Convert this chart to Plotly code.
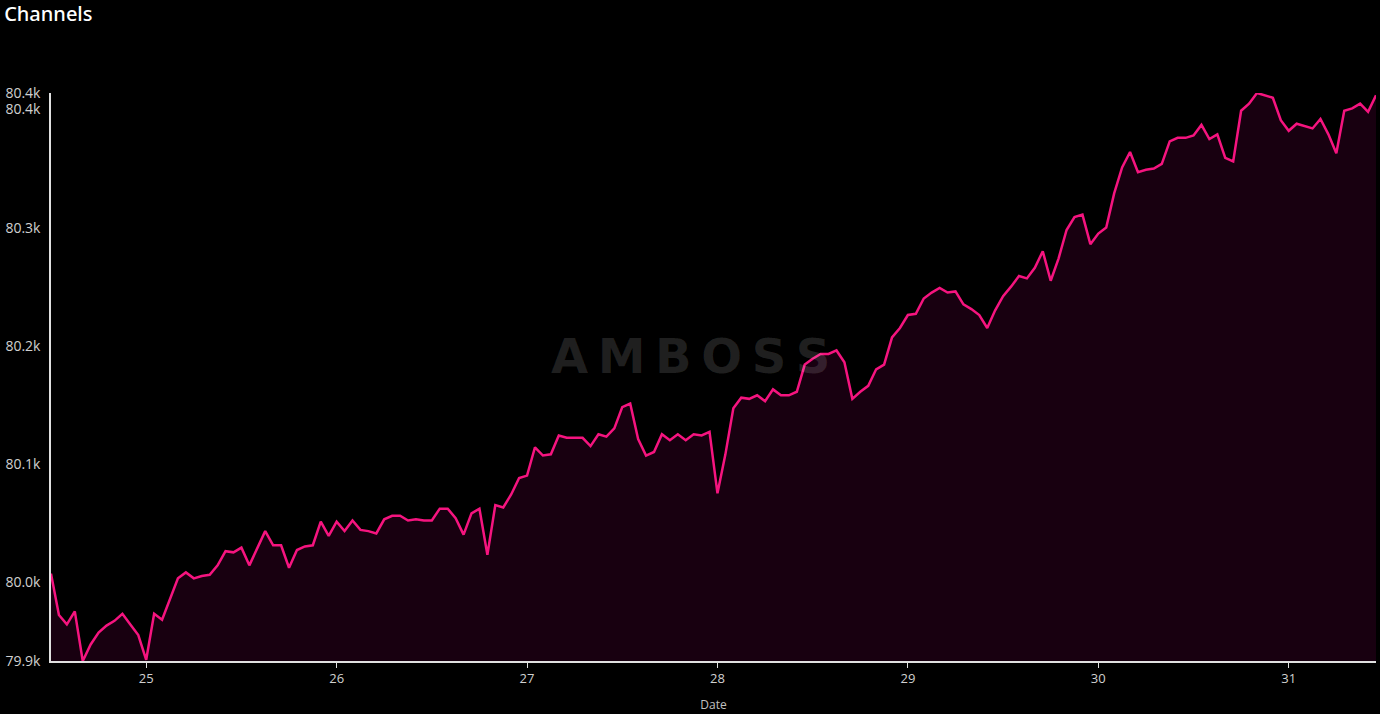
import pandas as pd
import plotly.graph_objects as go

# hourly channel counts, from 24th 12:00 to 31st 11:00
start_time = "2024-01-24 12:00"
channels = [
    80007, 79972, 79964, 79975, 79933, 79947, 79957, 79963, 79967, 79973,
    79964, 79955, 79934, 79973, 79968, 79985, 80003, 80008, 80003, 80005,
    80006, 80014, 80026, 80025, 80029, 80014, 80029, 80043, 80031, 80031,
    80012, 80027, 80030, 80031, 80051, 80039, 80051, 80043, 80052, 80044,
    80043, 80041, 80053, 80056, 80056, 80052, 80053, 80052, 80052, 80062,
    80062, 80054, 80040, 80058, 80062, 80023, 80065, 80063, 80074, 80088,
    80090, 80114, 80107, 80108, 80124, 80122, 80122, 80122, 80115, 80125,
    80123, 80130, 80148, 80151, 80121, 80107, 80110, 80125, 80120, 80125,
    80120, 80125, 80124, 80127, 80075, 80108, 80147, 80156, 80155, 80158,
    80153, 80163, 80158, 80158, 80161, 80184, 80189, 80193, 80193, 80196,
    80186, 80155, 80161, 80166, 80180, 80184, 80207, 80215, 80226, 80227,
    80240, 80245, 80249, 80245, 80246, 80235, 80231, 80226, 80215, 80230,
    80242, 80250, 80259, 80257, 80266, 80280, 80255, 80274, 80298, 80309,
    80311, 80286, 80295, 80300, 80329, 80351, 80364, 80347, 80349, 80350,
    80354, 80373, 80376, 80376, 80378, 80387, 80375, 80379, 80359, 80356,
    80399, 80405, 80414, 80412, 80410, 80391, 80382, 80388, 80386, 80384,
    80392, 80379, 80363, 80399, 80401, 80405, 80398, 80412,
]
dates = pd.date_range(start_time, periods=len(channels), freq="h")
round_ticks = [80000, 80100, 80200, 80300, 80400]

ymin, ymax = min(channels), max(channels)
tickvals = [ymin] + round_ticks + [ymax]
ticktext = [f"{v/1000:.1f}k" for v in tickvals]

fig = go.Figure()
fig.add_trace(go.Scatter(
    x=dates, y=channels, mode="lines",
    line=dict(color="#f5147f", width=2.5),
    fill="tozeroy", fillcolor="#180010",
    hoverinfo="skip",
))

fig.update_layout(
    width=1380, height=714,
    paper_bgcolor="#000000", plot_bgcolor="#000000",
    margin=dict(l=51, r=4, t=93, b=48),
    showlegend=False,
    font=dict(family="Open Sans, Noto Sans, sans-serif", color="#d0d0d0", size=14),
    title=dict(text="Channels", x=0.003, xanchor="left", xref="container",
               y=0.981, yanchor="middle", yref="container",
               font=dict(size=20, color="#ffffff", family="Noto Sans, Open Sans, sans-serif",
                         weight=500)),
    xaxis=dict(
        range=[dates[0], dates[-1]],
        tickformat="%-d", dtick=86400000, tick0="2024-01-25",
        showgrid=False, zeroline=False,
        showline=True, linecolor="#e0e0e0", linewidth=1.5,
        ticks="outside", ticklen=5, tickcolor="#e0e0e0",
        tickfont=dict(size=13, color="#d0d0d0"),
        title=dict(text="Date", font=dict(size=12, color="#c0c0c0"), standoff=14),
    ),
    yaxis=dict(
        range=[ymin, ymax],
        tickmode="array", tickvals=tickvals, ticktext=ticktext,
        showgrid=False, zeroline=False,
        showline=True, linecolor="#e0e0e0", linewidth=1.5,
        ticks="", ticklabelstandoff=6,
        tickfont=dict(size=14, color="#d0d0d0"),
    ),
    annotations=[dict(
        text="<b>A\u2009M\u2009B\u2009O\u2009S\u2009S</b>", xref="paper", yref="paper",
        x=0.4827, y=0.537, xanchor="center", yanchor="middle",
        showarrow=False,
        font=dict(size=48, color="rgba(255,255,255,0.13)", family="DejaVu Sans, sans-serif"),
    )],
)

fig.write_html(
    "out.html",
    config={"displayModeBar": False},
    post_script="document.body.style.margin='0';document.body.style.background='#000';",
)
